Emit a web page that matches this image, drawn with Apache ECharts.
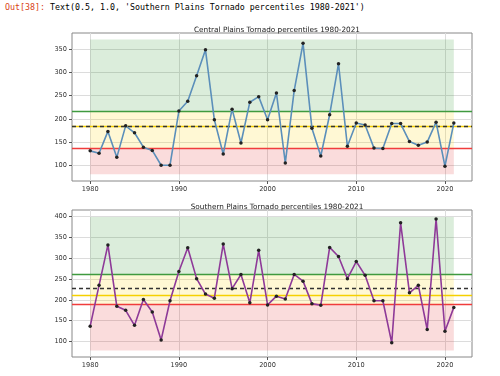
<!DOCTYPE html>
<html>
<head>
<meta charset="utf-8">
<script src="https://cdn.jsdelivr.net/npm/echarts@6/dist/echarts.min.js"></script>
<style>
  html, body { margin: 0; padding: 0; background: #fff; }
  #out { position: absolute; left: 5px; top: 2px; font: 8.3px "DejaVu Sans Mono", monospace; white-space: pre; color: #000; }
  #out span { color: #d84315; }
  #chart { width: 500px; height: 376px; }
</style>
</head>
<body>
<div id="out"><span>Out[38]:</span> Text(0.5, 1.0, 'Southern Plains Tornado percentiles 1980-2021')</div>
<div id="chart"></div>
<script>
const years = []
for (let y = 1980; y <= 2021; y++) years.push(y)

const central = [131, 126, 173, 117, 185, 170, 139, 132, 100, 100, 217, 238, 293, 349, 198, 124, 221, 148, 236, 248,
  198, 256, 105, 261, 363, 180, 120, 209, 319, 141, 191, 187, 137, 136, 190, 190, 151, 143, 150, 193,
  98, 191]
const southern = [137, 235, 332, 185, 175, 139, 201, 171, 104, 198, 268, 325, 251, 214, 204, 334, 227, 261, 193, 319,
  188, 209, 202, 261, 245, 191, 187, 326, 304, 251, 292, 259, 198, 198, 97, 385, 217, 235, 129, 394,
  125, 182]

// horizontal levels and the extent of the coloured bands
const centralLevels = { red: 136, yellow: 184, mean: 185, green: 216.5, top: 371.5, bottom: 80.5 }
const southernLevels = { red: 189, yellow: 211, mean: 227, green: 261, top: 399, bottom: 78.6 }

const xTicks = [1980, 1990, 2000, 2010, 2020]
const centralTicks = [100, 150, 200, 250, 300, 350]
const southernTicks = [100, 150, 200, 250, 300, 350, 400]

const titles = ['Central Plains Tornado percentiles 1980-2021', 'Southern Plains Tornado percentiles 1980-2021']

const dom = document.getElementById('chart')
const chart = echarts.init(dom)

const gridLine = { show: true, lineStyle: { color: '#dcdcdc', width: 1 } }
const lbl = { color: '#333', fontSize: 6.6, fontFamily: 'DejaVu Sans', formatter: (v) => String(v) }

function xAxis(idx) {
  return {
    type: 'value', gridIndex: idx, min: 1977.95, max: 2023.05,
    axisLine: { show: false },
    axisTick: { show: true, customValues: xTicks, length: 3, lineStyle: { color: '#555' } },
    axisLabel: { ...lbl, customValues: xTicks, margin: 5 },
    splitLine: gridLine,
  }
}
function yAxis(idx, min, max, ticks) {
  return {
    type: 'value', gridIndex: idx, min: min, max: max,
    axisLine: { show: false },
    axisTick: { show: true, customValues: ticks, length: 3, lineStyle: { color: '#555' } },
    axisLabel: { ...lbl, customValues: ticks, margin: 5 },
    splitLine: gridLine,
  }
}

function bands(lv) {
  return {
    silent: true,
    data: [
      [{ coord: [1980, lv.green], itemStyle: { color: 'rgba(0,128,0,0.14)' } }, { coord: [2021, lv.top] }],
      [{ coord: [1980, lv.red], itemStyle: { color: 'rgba(255,215,0,0.17)' } }, { coord: [2021, lv.green] }],
      [{ coord: [1980, lv.bottom], itemStyle: { color: 'rgba(220,20,20,0.15)' } }, { coord: [2021, lv.red] }],
    ],
  }
}
function levels(lv) {
  return {
    silent: true, symbol: 'none', label: { show: false },
    data: [
      { yAxis: lv.green, lineStyle: { color: '#3f9a3f', width: 1.3, type: 'solid' } },
      { yAxis: lv.yellow, lineStyle: { color: '#f5d000', width: 1.3, type: 'solid' } },
      { yAxis: lv.mean, lineStyle: { color: '#333', width: 1.3, type: [4, 3] } },
      { yAxis: lv.red, lineStyle: { color: '#f03c3c', width: 1.3, type: 'solid' } },
    ],
  }
}

function lineSeries(idx, values, color, lv) {
  return {
    type: 'line', xAxisIndex: idx, yAxisIndex: idx,
    data: years.map((y, i) => [y, values[i]]),
    symbol: 'circle', symbolSize: 3.5,
    itemStyle: { color: '#222' },
    lineStyle: { color: color, width: 1.6 },
    markArea: bands(lv),
    markLine: levels(lv),
    z: 5,
  }
}

const titleStyle = { fontSize: 7.3, fontWeight: 'normal', color: '#222', fontFamily: 'DejaVu Sans' }

let option = {
  animation: false,
  title: [
    { text: titles[0], left: 272, top: 22, textAlign: 'center', textStyle: titleStyle },
    { text: titles[1], left: 272, top: 199, textAlign: 'center', textStyle: titleStyle },
  ],
  grid: [
    { left: 72, top: 33, width: 400, height: 148, show: true, borderColor: '#888', borderWidth: 1 },
    { left: 72, top: 210, width: 400, height: 147, show: true, borderColor: '#888', borderWidth: 1 },
  ],
  xAxis: [xAxis(0), xAxis(1)],
  yAxis: [yAxis(0, 66, 385.3, centralTicks), yAxis(1, 63, 415.7, southernTicks)],
  series: [
    lineSeries(0, central, '#5b8fba', centralLevels),
    lineSeries(1, southern, '#8e3a98', southernLevels),
  ],
}

chart.setOption(option)
</script>
</body>
</html>
